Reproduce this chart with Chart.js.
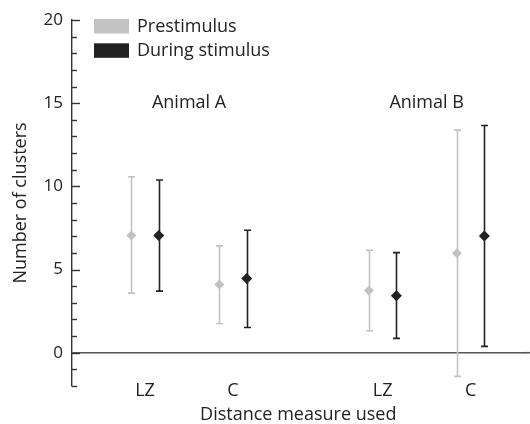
<!DOCTYPE html>
<html><head><meta charset="utf-8">
<script src="https://cdn.jsdelivr.net/npm/chart.js@4/dist/chart.umd.min.js"></script>
<style>html,body{margin:0;padding:0;background:#fff}</style>
</head><body>
<canvas id="c" width="530" height="424"></canvas>
<script>
const categories = ['LZ', 'C', 'LZ', 'C'];
const groupPositions = [1, 2, 3.7, 4.7];
const animals = ['Animal A', 'Animal B'];
const animalLabelY = [15, 15];
const seriesNames = ['Prestimulus', 'During stimulus'];
const preMean = [7.04, 4.1, 3.74, 5.98];
const preLow  = [3.58, 1.76, 1.32, -1.42];
const preHigh = [10.58, 6.42, 6.16, 13.38];
const durMean = [7.04, 4.46, 3.42, 7.02];
const durLow  = [3.7, 1.52, 0.86, 0.38];
const durHigh = [10.38, 7.36, 6.02, 13.66];
const yLabelValues = [0, 5, 10, 15, 20];

const PAIR_OFFSET = 0.156;
const PRE_COLOR = '#c2c2c2';
const DUR_COLOR = '#222222';
const FONT = '"Open Sans", Lato, sans-serif';

Chart.defaults.font.family = FONT;
Chart.defaults.font.size = 16;
Chart.defaults.color = '#222';

function mk(means, lows, highs, off) {
  return groupPositions.map((p, i) => ({ x: p + off, y: means[i], lo: lows[i], hi: highs[i] }));
}

const errorBars = {
  id: 'errorBars',
  beforeDatasetsDraw(chart) {
    const { ctx, scales: { x, y } } = chart;
    chart.data.datasets.forEach(ds => {
      ctx.save();
      ctx.strokeStyle = ds.barColor;
      ctx.lineWidth = 1.6;
      ds.data.forEach(d => {
        const px = Math.round(x.getPixelForValue(d.x)) + 0.5;
        const y1 = y.getPixelForValue(d.hi), y2 = y.getPixelForValue(d.lo);
        ctx.beginPath();
        ctx.moveTo(px, y1); ctx.lineTo(px, y2);
        ctx.moveTo(px - 3.5, y1); ctx.lineTo(px + 3.5, y1);
        ctx.moveTo(px - 3.5, y2); ctx.lineTo(px + 3.5, y2);
        ctx.stroke();
      });
      ctx.restore();
    });
  }
};

const extras = {
  id: 'extras',
  afterDraw(chart) {
    const { ctx, scales: { x, y }, chartArea } = chart;
    ctx.save();
    // continue the zero line to the right edge of the canvas
    ctx.strokeStyle = '#555';
    ctx.lineWidth = 1.6;
    const zy = y.getPixelForValue(0);
    ctx.beginPath();
    ctx.moveTo(chartArea.right - 1, zy); ctx.lineTo(chart.width, zy);
    ctx.stroke();
    // inward y ticks
    ctx.strokeStyle = '#333';
    ctx.lineWidth = 1.4;
    y.ticks.forEach(t => {
      const py = Math.round(y.getPixelForValue(t.value)) + 0.5;
      const len = (t.value % 5 === 0) ? 8 : 5;
      ctx.beginPath();
      ctx.moveTo(chartArea.left, py); ctx.lineTo(chartArea.left + len, py);
      ctx.stroke();
    });
    ctx.fillStyle = '#222';
    ctx.font = '18px ' + FONT;
    ctx.textAlign = 'center';
    ctx.textBaseline = 'middle';
    categories.forEach((c, i) => {
      ctx.fillText(c, x.getPixelForValue(groupPositions[i]), chartArea.bottom + 5);
    });
    animals.forEach((a, i) => {
      const cx = (x.getPixelForValue(groupPositions[2 * i]) + x.getPixelForValue(groupPositions[2 * i + 1])) / 2;
      ctx.fillText(a, cx, y.getPixelForValue(animalLabelY[i]));
    });
    ctx.textAlign = 'left';
    chart.data.datasets.forEach((ds, i) => {
      const top = 19 + i * 24.3;
      ctx.fillStyle = ds.barColor;
      ctx.fillRect(94, top, 35, 14.5);
      ctx.fillStyle = '#222';
      ctx.fillText(ds.label, 137, top + 7.5);
    });
    ctx.restore();
  }
};

new Chart(document.getElementById('c'), {
  type: 'scatter',
  data: {
    datasets: [
      { label: seriesNames[0], data: mk(preMean, preLow, preHigh, -PAIR_OFFSET), barColor: PRE_COLOR,
        pointStyle: 'rectRot', pointRadius: 5, backgroundColor: PRE_COLOR, borderColor: PRE_COLOR, borderWidth: 0 },
      { label: seriesNames[1], data: mk(durMean, durLow, durHigh, PAIR_OFFSET), barColor: DUR_COLOR,
        pointStyle: 'rectRot', pointRadius: 5.5, backgroundColor: DUR_COLOR, borderColor: DUR_COLOR, borderWidth: 0 }
    ]
  },
  options: {
    responsive: false,
    animation: false,
    devicePixelRatio: 1,
    layout: { padding: { top: 20, right: 0, bottom: 0, left: 0 } },
    plugins: { legend: { display: false }, tooltip: { enabled: false } },
    scales: {
      x: {
        type: 'linear', min: 0.17, max: 5.312,
        afterBuildTicks: s => { s.ticks = groupPositions.map(v => ({ value: v })); },
        afterFit: s => { s.height = 38; s.paddingLeft = 0; s.paddingRight = 0; },
        ticks: { display: false },
        grid: { display: false },
        border: { display: false },
        title: { display: true, text: 'Distance measure used', font: { size: 18, lineHeight: 1.0 }, padding: { top: 0, bottom: 0 }, color: '#222' }
      },
      y: {
        type: 'linear', min: -2, max: 20,
        afterFit: s => { s.width = 72; s.paddingTop = 0; s.paddingBottom = 0; },
        ticks: { stepSize: 1, autoSkip: false, padding: 9, color: '#222', font: { size: 17 },
          callback: v => yLabelValues.includes(v) ? String(v) : '' },
        grid: { drawTicks: false, lineWidth: 1.6,
          color: c => (c.tick && c.tick.value === 0) ? '#555' : 'rgba(0,0,0,0)' },
        border: { display: true, color: '#333', width: 1.4 },
        title: { display: true, text: 'Number of clusters', font: { size: 18 }, padding: { top: 10, bottom: 0 }, color: '#222' }
      }
    }
  },
  plugins: [errorBars, extras]
});
</script>
</body></html>
